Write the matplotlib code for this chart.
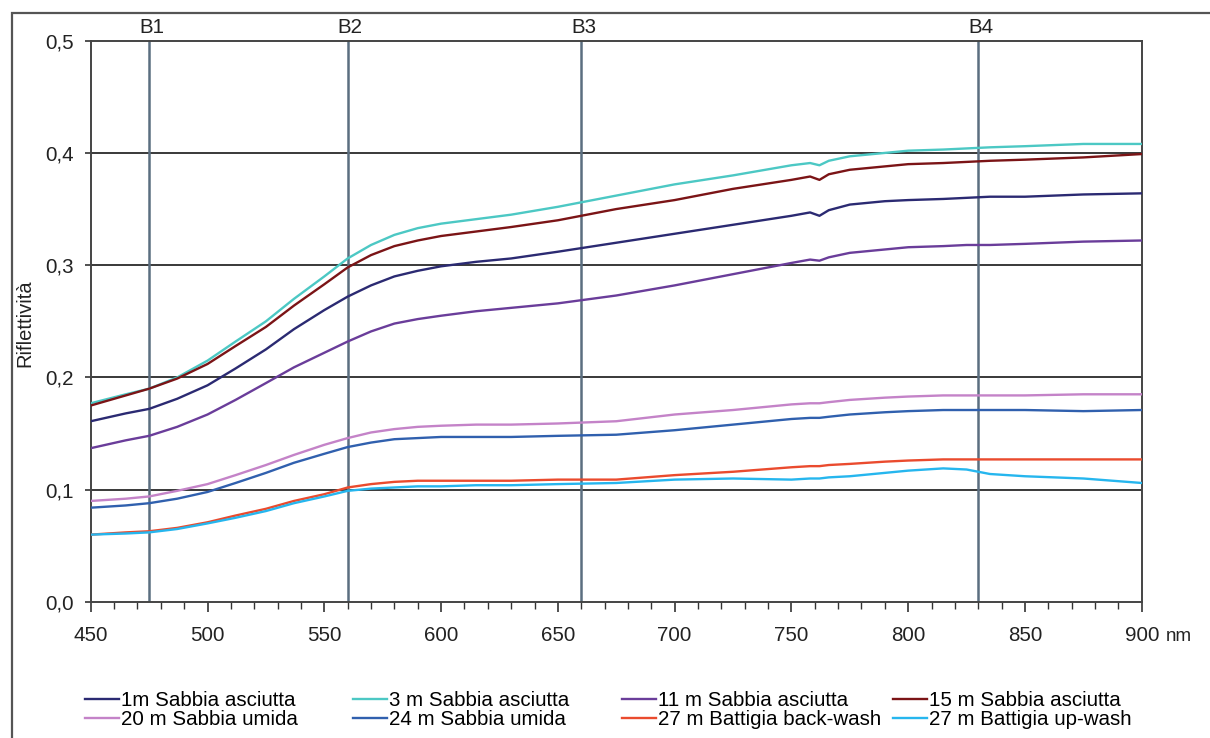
import numpy as np
import matplotlib
matplotlib.use('Agg')
import matplotlib.pyplot as plt
import matplotlib.transforms as mtransforms
from matplotlib.patches import Rectangle
from matplotlib.ticker import MultipleLocator, FixedLocator

plt.rcParams['font.family'] = ['Liberation Sans', 'DejaVu Sans']
plt.rcParams['font.size'] = 14.8

# wavelengths (nm) shared by all spectra
wl = [450, 465, 475, 487, 500, 512, 525, 537, 550, 560, 570, 580, 590, 600, 615, 630, 650,
      675, 700, 725, 750, 758, 762, 766, 775, 790, 800, 815, 825, 835, 850, 875, 900]

# reflectance
s1m = [0.161, 0.168, 0.172, 0.181, 0.193, 0.208, 0.225, 0.243, 0.260, 0.272, 0.282, 0.290, 0.295, 0.299, 0.303, 0.306, 0.312,
       0.320, 0.328, 0.336, 0.344, 0.347, 0.344, 0.349, 0.354, 0.357, 0.358, 0.359, 0.360, 0.361, 0.361, 0.363, 0.364]
s3m = [0.177, 0.185, 0.190, 0.200, 0.215, 0.232, 0.250, 0.270, 0.290, 0.306, 0.318, 0.327, 0.333, 0.337, 0.341, 0.345, 0.352,
       0.362, 0.372, 0.380, 0.389, 0.391, 0.389, 0.393, 0.397, 0.400, 0.402, 0.403, 0.404, 0.405, 0.406, 0.408, 0.408]
s11m = [0.137, 0.144, 0.148, 0.156, 0.167, 0.180, 0.195, 0.209, 0.222, 0.232, 0.241, 0.248, 0.252, 0.255, 0.259, 0.262, 0.266,
        0.273, 0.282, 0.292, 0.302, 0.305, 0.304, 0.307, 0.311, 0.314, 0.316, 0.317, 0.318, 0.318, 0.319, 0.321, 0.322]
s15m = [0.175, 0.184, 0.190, 0.199, 0.212, 0.228, 0.245, 0.264, 0.283, 0.298, 0.309, 0.317, 0.322, 0.326, 0.330, 0.334, 0.340,
        0.350, 0.358, 0.368, 0.376, 0.379, 0.376, 0.381, 0.385, 0.388, 0.390, 0.391, 0.392, 0.393, 0.394, 0.396, 0.399]
s20m = [0.090, 0.092, 0.094, 0.099, 0.105, 0.113, 0.122, 0.131, 0.140, 0.146, 0.151, 0.154, 0.156, 0.157, 0.158, 0.158, 0.159,
        0.161, 0.167, 0.171, 0.176, 0.177, 0.177, 0.178, 0.180, 0.182, 0.183, 0.184, 0.184, 0.184, 0.184, 0.185, 0.185]
s24m = [0.084, 0.086, 0.088, 0.092, 0.098, 0.106, 0.115, 0.124, 0.132, 0.138, 0.142, 0.145, 0.146, 0.147, 0.147, 0.147, 0.148,
        0.149, 0.153, 0.158, 0.163, 0.164, 0.164, 0.165, 0.167, 0.169, 0.170, 0.171, 0.171, 0.171, 0.171, 0.170, 0.171]
s27b = [0.060, 0.062, 0.063, 0.066, 0.071, 0.077, 0.083, 0.090, 0.096, 0.102, 0.105, 0.107, 0.108, 0.108, 0.108, 0.108, 0.109,
        0.109, 0.113, 0.116, 0.120, 0.121, 0.121, 0.122, 0.123, 0.125, 0.126, 0.127, 0.127, 0.127, 0.127, 0.127, 0.127]
s27u = [0.060, 0.061, 0.062, 0.065, 0.070, 0.075, 0.081, 0.088, 0.094, 0.099, 0.101, 0.102, 0.103, 0.103, 0.104, 0.104, 0.105,
        0.106, 0.109, 0.110, 0.109, 0.110, 0.110, 0.111, 0.112, 0.115, 0.117, 0.119, 0.118, 0.114, 0.112, 0.110, 0.106]

labels = ['1m Sabbia asciutta', '3 m Sabbia asciutta', '11 m Sabbia asciutta', '15 m Sabbia asciutta',
          '20 m Sabbia umida', '24 m Sabbia umida', '27 m Battigia back-wash', '27 m Battigia up-wash']
series = [s1m, s3m, s11m, s15m, s20m, s24m, s27b, s27u]
colors = ['#2b2a72', '#4cc8c4', '#6a3d9a', '#7b1416', '#c483c8', '#3060ae', '#ea4b2e', '#26b6ee']

bands = [475, 560, 660, 830]
band_names = ['B1', 'B2', 'B3', 'B4']

fig = plt.figure(figsize=(12.1, 7.38), dpi=100)
ax = fig.add_axes([0.075, 0.1843, 0.8686, 0.7606])

# outer frame (cut by the image border on the right and bottom)
fig.patches.append(Rectangle((11.7 / 1210, -0.1), 1.2, (738 - 13) / 738 + 0.1,
                             transform=fig.transFigure, fill=False, ec='#555555', lw=1.6))

for y in [0.1, 0.2, 0.3, 0.4]:
    ax.axhline(y, color='#2a2a2a', lw=1.3, zorder=1)

lines = []
for vals, lab, c in zip(series, labels, colors):
    ln, = ax.plot(wl, vals, color=c, lw=1.7, label=lab, zorder=3)
    lines.append(ln)

trans = mtransforms.blended_transform_factory(ax.transData, ax.transAxes)
for b, name in zip(bands, band_names):
    ax.axvline(b, color='#5b6e80', lw=1.8, zorder=2)
    ax.text(b + 1, 1.024, name, transform=trans, ha='center', va='center', color='#222222')

ax.set_xlim(450, 900)
ax.set_ylim(0, 0.5)
ax.xaxis.set_major_locator(MultipleLocator(50))
ax.xaxis.set_minor_locator(MultipleLocator(10))
ax.yaxis.set_major_locator(FixedLocator([0, 0.1, 0.2, 0.3, 0.4, 0.5]))
ax.set_yticklabels(['0,0', '0,1', '0,2', '0,3', '0,4', '0,5'])
ax.tick_params(axis='x', which='major', direction='out', length=7, width=1.2, pad=10, colors='#333333', labelcolor='#222222')
ax.tick_params(axis='x', which='minor', direction='out', length=5, width=1.0, colors='#333333')
ax.tick_params(axis='y', direction='out', length=4, width=1.2, pad=8, colors='#333333', labelcolor='#222222')
for sp in ax.spines.values():
    sp.set_color('#444444')
    sp.set_linewidth(1.4)

ax.text(1.023, -0.062, 'nm', transform=ax.transAxes, ha='left', va='center', color='#222222', fontsize=13.5)
fig.text(25 / 1210, 1 - 323 / 738, 'Riflettività', rotation=90, ha='center', va='center', color='#222222', fontsize=14.5)

# legend: 4 columns, 2 rows, placed column by column
col_x = [85, 353, 622, 893]
for i, x in enumerate(col_x):
    fig.legend([lines[i], lines[i + 4]], [labels[i], labels[i + 4]],
               loc='upper left', bbox_to_anchor=(x / 1210, 1 - 691 / 738),
               frameon=False, borderpad=0, borderaxespad=0, handlelength=1.65,
               handletextpad=0.1, labelspacing=0.0, fontsize=14.8)

fig.savefig('out.png', dpi=100)
